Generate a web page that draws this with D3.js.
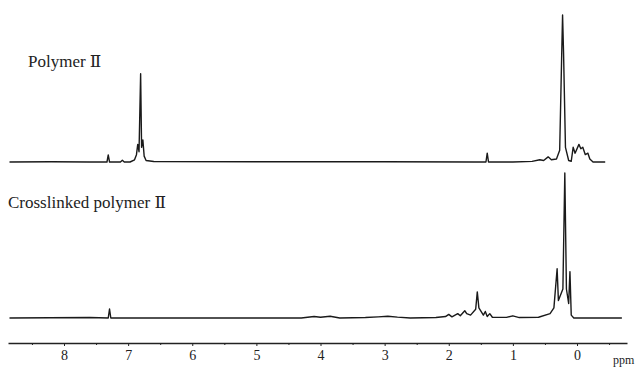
<!DOCTYPE html>
<html>
<head>
<meta charset="utf-8">
<script src="https://cdn.jsdelivr.net/npm/d3@7"></script>
<style>
  body { margin: 0; background: #fff; }
  svg { display: block; }
  .spec { fill: none; stroke: #1a1a1a; stroke-width: 1.4; stroke-linejoin: round; }
  .label { font-family: "Liberation Serif", "DejaVu Serif", serif; fill: #222; }
  .axis path, .axis line { stroke: #222; }
  .axis text { font-family: "Liberation Serif", "DejaVu Serif", serif; fill: #222; }
</style>
</head>
<body>
<div id="chart"></div>
<script>
// spectra as [ppm, relative intensity]
var topSpectrum = [
  [8.85, 0], [8.2, 0.002], [7.6, 0], [7.33, 0], [7.31, 0.048], [7.29, 0],
  [7.12, 0], [7.09, 0.012], [7.06, 0], [6.97, 0], [6.9, 0.015], [6.87, 0.05],
  [6.85, 0.12], [6.83, 0.07], [6.805, 0.6], [6.79, 0.1], [6.77, 0.15],
  [6.75, 0.04], [6.72, 0.01], [6.6, 0.003], [5, 0.002], [3, 0.002], [1.6, 0],
  [1.42, 0], [1.40, 0.06], [1.38, 0], [1.0, 0], [0.7, 0.004], [0.58, 0.015],
  [0.52, 0.01], [0.45, 0.035], [0.40, 0.015], [0.32, 0.02], [0.27, 0.08],
  [0.24, 0.7], [0.225, 1], [0.21, 0.75], [0.18, 0.1], [0.13, 0.01],
  [0.09, 0.005], [0.06, 0.1], [0.03, 0.06], [-0.03, 0.12], [-0.06, 0.09],
  [-0.09, 0.1], [-0.13, 0.05], [-0.17, 0.06], [-0.2, 0.02], [-0.25, 0], [-0.44, 0]
];

var bottomSpectrum = [
  [8.85, 0], [7.6, 0.003], [7.31, 0], [7.29, 0.062], [7.27, 0], [6, 0],
  [4.3, 0], [4.1, 0.01], [4.0, 0.005], [3.85, 0.012], [3.7, 0], [3.3, 0.003],
  [3.1, 0.008], [2.95, 0.012], [2.8, 0.006], [2.6, 0], [2.2, 0.003],
  [2.05, 0.01], [2.0, 0.025], [1.95, 0.008], [1.86, 0.03], [1.82, 0.015],
  [1.75, 0.05], [1.72, 0.03], [1.66, 0.02], [1.58, 0.06], [1.555, 0.18],
  [1.53, 0.07], [1.46, 0.02], [1.43, 0.045], [1.40, 0.01], [1.36, 0.03],
  [1.32, 0.005], [1.1, 0.004], [1.0, 0.015], [0.9, 0.003], [0.6, 0.005],
  [0.42, 0.03], [0.36, 0.07], [0.31, 0.34], [0.29, 0.12], [0.22, 0.2],
  [0.19, 1], [0.165, 0.2], [0.13, 0.1], [0.11, 0.32], [0.09, 0.02],
  [0.05, 0], [-0.7, 0]
];

var majorTicks = [8, 7, 6, 5, 4, 3, 2, 1, 0];
var minorTicks = [8.5, 7.5, 6.5, 5.5, 4.5, 3.5, 2.5, 1.5, 0.5, -0.5];
var titles = ["Polymer \u2161", "Crosslinked polymer \u2161"];
var unitLabel = "ppm";

var width = 640, height = 368;

var svg = d3.select("#chart")
  .append("svg")
  .attr("width", width)
  .attr("height", height);

svg.append("rect").attr("width", width).attr("height", height).attr("fill", "#fff");

var x = d3.scaleLinear().domain([8, 0]).range([64, 577]);

var yTop = d3.scaleLinear().domain([0, 1]).range([162, 15]);
var yBottom = d3.scaleLinear().domain([0, 1]).range([318, 173]);

var lineTop = d3.line()
  .x(function(d) { return x(d[0]); })
  .y(function(d) { return yTop(d[1]); });

var lineBottom = d3.line()
  .x(function(d) { return x(d[0]); })
  .y(function(d) { return yBottom(d[1]); });

svg.append("path").attr("class", "spec").attr("d", lineTop(topSpectrum));
svg.append("path").attr("class", "spec").attr("d", lineBottom(bottomSpectrum));

svg.append("text").attr("class", "label")
  .attr("x", 28).attr("y", 67)
  .attr("font-size", 17)
  .text(titles[0]);

svg.append("text").attr("class", "label")
  .attr("x", 8).attr("y", 208)
  .attr("font-size", 17)
  .text(titles[1]);

// axis: domain spans the whole drawn range
var xAxisScale = x.copy().domain([x.invert(8), x.invert(627)]).range([8, 627]);

var axisG = svg.append("g")
  .attr("class", "axis")
  .attr("transform", "translate(0,343)")
  .call(d3.axisBottom(xAxisScale)
    .tickValues(majorTicks)
    .tickSize(3)
    .tickSizeOuter(0)
    .tickPadding(4)
    .tickFormat(d3.format("d")));

axisG.select(".domain").attr("stroke-width", 1.4);
axisG.selectAll(".tick text").attr("font-size", 14);

svg.append("g")
  .attr("class", "axis")
  .attr("transform", "translate(0,343)")
  .call(d3.axisBottom(xAxisScale)
    .tickValues(minorTicks)
    .tickSize(2)
    .tickSizeOuter(0)
    .tickFormat(""))
  .select(".domain").remove();

svg.append("text").attr("class", "label")
  .attr("x", 613).attr("y", 364)
  .attr("font-size", 12)
  .text(unitLabel);
</script>
</body>
</html>
